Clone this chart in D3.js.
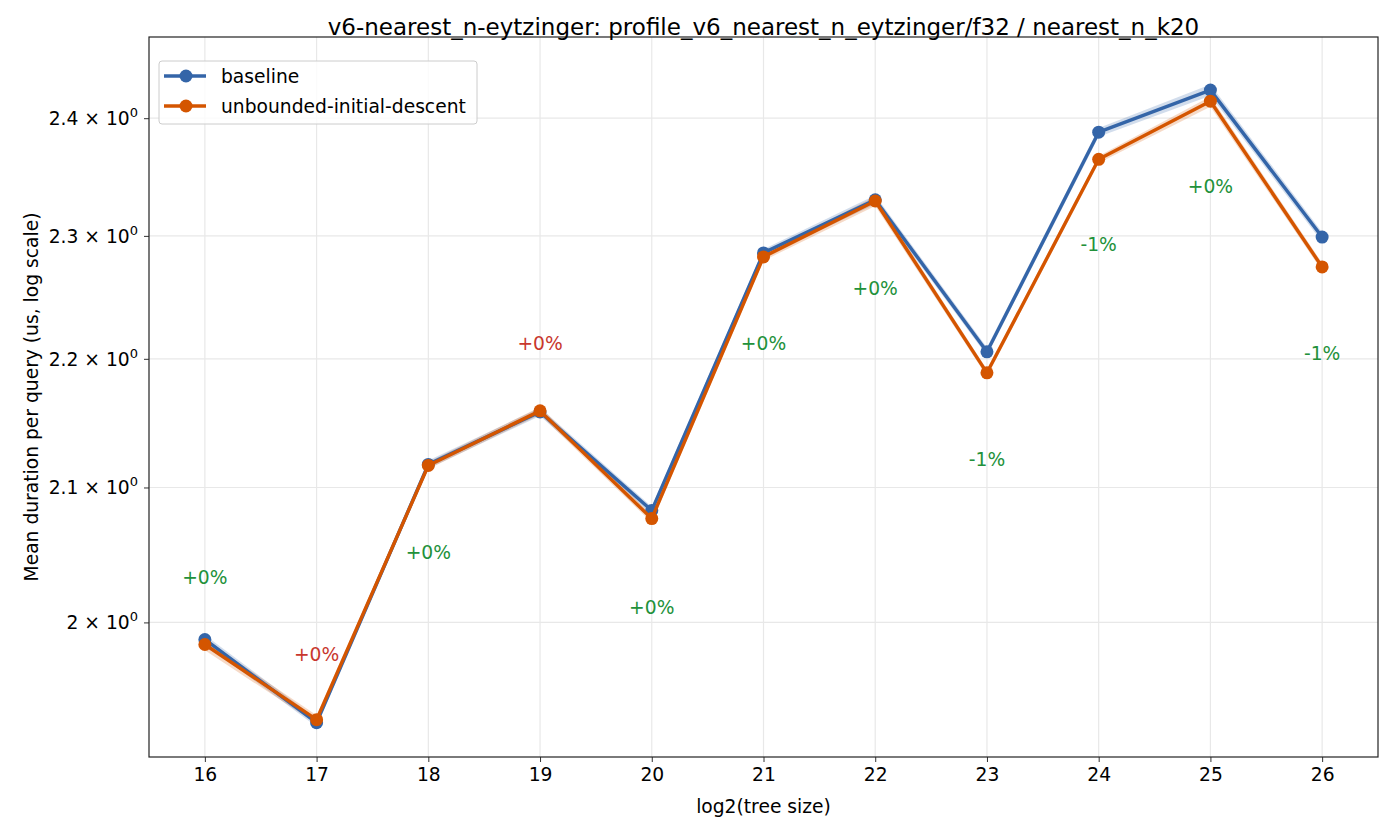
<!DOCTYPE html>
<html>
<head>
<meta charset="utf-8">
<script src="https://cdn.jsdelivr.net/npm/d3@7"></script>
<style>
  body { margin: 0; background: #fff; }
  text { font-family: "DejaVu Sans", sans-serif; }
</style>
</head>
<body>
<div id="chart"></div>
<script>
// data
const sizes = [16, 17, 18, 19, 20, 21, 22, 23, 24, 25, 26];
const baseline = [1.9877, 1.9288, 2.1176, 2.1582, 2.0826, 2.2859, 2.3302, 2.2056, 2.3879, 2.4245, 2.2990];
const baselineLo = [1.9845, 1.9260, 2.1145, 2.1550, 2.0795, 2.2825, 2.3265, 2.2025, 2.3840, 2.4195, 2.2950];
const baselineHi = [1.9910, 1.9315, 2.1205, 2.1615, 2.0855, 2.2890, 2.3340, 2.2090, 2.3915, 2.4295, 2.3030];
const unbounded = [1.9841, 1.9309, 2.1168, 2.1590, 2.0765, 2.2826, 2.3292, 2.1889, 2.3646, 2.4148, 2.2743];
const unboundedLo = [1.9800, 1.9280, 2.1140, 2.1560, 2.0735, 2.2795, 2.3250, 2.1860, 2.3615, 2.4100, 2.2710];
const unboundedHi = [1.9875, 1.9340, 2.1195, 2.1620, 2.0795, 2.2855, 2.3330, 2.1915, 2.3675, 2.4190, 2.2775];
const deltaText = ["+0%", "+0%", "+0%", "+0%", "+0%", "+0%", "+0%", "-1%", "-1%", "+0%", "-1%"];
const deltaWorse = [false, true, false, true, false, false, false, false, false, false, false];
const deltaY = [2.0329, 1.9769, 2.0511, 2.2120, 2.0109, 2.2120, 2.2571, 2.1214, 2.2925, 2.3412, 2.2040];
const yTicks = [2.0, 2.1, 2.2, 2.3, 2.4];
const yTickMant = ["2", "2.1", "2.2", "2.3", "2.4"];

const width = 1400, height = 840,
    margin = ({ top: 37, right: 22, bottom: 83, left: 149 });
const fs = 18.7;

const svg = d3.select("#chart")
    .append("svg")
    .attr("width", width)
    .attr("height", height);

let x = d3.scaleLinear()
    .domain([15.5, 26.5])
    .range([margin.left, width - margin.right]);

let y = d3.scaleLog()
    .domain([1.905, 2.4715])
    .range([height - margin.bottom, margin.top]);

// grid
svg.append("g")
    .selectAll("line")
    .data(sizes)
    .join("line")
    .attr("x1", d => x(d)).attr("x2", d => x(d))
    .attr("y1", margin.top).attr("y2", height - margin.bottom)
    .attr("stroke", "#e8e8e8").attr("stroke-width", 1.2);

svg.append("g")
    .selectAll("line")
    .data(yTicks)
    .join("line")
    .attr("x1", margin.left).attr("x2", width - margin.right)
    .attr("y1", d => y(d)).attr("y2", d => y(d))
    .attr("stroke", "#e8e8e8").attr("stroke-width", 1.2);

// x axis
let xAxis = svg.append("g")
    .attr("transform", `translate(0,${height - margin.bottom})`)
    .call(d3.axisBottom(x).tickValues(sizes).tickFormat(d3.format("d")).tickSize(5).tickPadding(6).tickSizeOuter(0));
xAxis.select(".domain").remove();
xAxis.selectAll("text").attr("font-size", fs).attr("fill", "#000");
xAxis.selectAll("line").attr("stroke", "#333");

// y axis
let yAxis = svg.append("g")
    .attr("transform", `translate(${margin.left},0)`)
    .call(d3.axisLeft(y).tickValues(yTicks).tickFormat("").tickSize(5).tickSizeOuter(0));
yAxis.select(".domain").remove();
yAxis.selectAll("line").attr("stroke", "#333");

let yLab = svg.append("g")
    .selectAll("text")
    .data(yTicks)
    .join("text")
    .attr("x", margin.left - 11)
    .attr("y", d => y(d) + 7)
    .attr("text-anchor", "end")
    .attr("font-size", fs);
yLab.append("tspan").text((d, i) => yTickMant[i] + " \u00d7 10");
yLab.append("tspan").attr("dy", -8).attr("font-size", 13).text("0");

// confidence bands
let area = (lo, hi) => d3.area()
    .x((d, i) => x(sizes[i]))
    .y0((d, i) => y(lo[i]))
    .y1((d, i) => y(hi[i]));

const series = [
    { name: "baseline", values: baseline, lo: baselineLo, hi: baselineHi, color: "#3465a8" },
    { name: "unbounded-initial-descent", values: unbounded, lo: unboundedLo, hi: unboundedHi, color: "#d45500" }
];

let line = d3.line()
    .x((d, i) => x(sizes[i]))
    .y(d => y(d));

for (let s of series) {
    svg.append("path")
        .datum(s.values)
        .attr("d", area(s.lo, s.hi))
        .attr("fill", s.color)
        .attr("opacity", 0.22);
}

for (let s of series) {
    let g = svg.append("g");
    g.append("path")
        .datum(s.values)
        .attr("fill", "none")
        .attr("stroke", s.color)
        .attr("stroke-width", 3.4)
        .attr("stroke-linejoin", "round")
        .attr("d", line);
    g.selectAll("circle")
        .data(s.values)
        .join("circle")
        .attr("cx", (d, i) => x(sizes[i]))
        .attr("cy", d => y(d))
        .attr("r", 6.5)
        .attr("fill", s.color);
}

// delta labels
svg.append("g")
    .selectAll("text")
    .data(deltaText)
    .join("text")
    .attr("x", (d, i) => x(sizes[i]))
    .attr("y", (d, i) => y(deltaY[i]))
    .attr("dy", "0.35em")
    .attr("text-anchor", "middle")
    .attr("font-size", fs)
    .attr("fill", (d, i) => deltaWorse[i] ? "#c8372d" : "#22913a")
    .text(d => d);

// frame
svg.append("rect")
    .attr("x", margin.left)
    .attr("y", margin.top)
    .attr("width", width - margin.left - margin.right)
    .attr("height", height - margin.top - margin.bottom)
    .attr("fill", "none")
    .attr("stroke", "#222")
    .attr("stroke-width", 1.2);

// title and labels
svg.append("text")
    .attr("x", (margin.left + width - margin.right) / 2)
    .attr("y", 35)
    .attr("text-anchor", "middle")
    .attr("font-size", 23)
    .text("v6-nearest_n-eytzinger: profile_v6_nearest_n_eytzinger/f32 / nearest_n_k20");

svg.append("text")
    .attr("x", (margin.left + width - margin.right) / 2)
    .attr("y", 813)
    .attr("text-anchor", "middle")
    .attr("font-size", fs)
    .text("log2(tree size)");

svg.append("text")
    .attr("transform", `translate(38,${(margin.top + height - margin.bottom) / 2}) rotate(-90)`)
    .attr("text-anchor", "middle")
    .attr("font-size", fs)
    .text("Mean duration per query (us, log scale)");

// legend
let legend = svg.append("g").attr("transform", "translate(159,61)");
legend.append("rect")
    .attr("width", 318).attr("height", 63).attr("rx", 3)
    .attr("fill", "#fff").attr("fill-opacity", 0.8)
    .attr("stroke", "#ccc");
series.forEach((s, i) => {
    let row = legend.append("g").attr("transform", `translate(0,${15 + i * 30})`);
    row.append("line").attr("x1", 5).attr("x2", 47).attr("stroke", s.color).attr("stroke-width", 3.4);
    row.append("circle").attr("cx", 27).attr("r", 6.5).attr("fill", s.color);
    row.append("text").attr("x", 62).attr("dy", "0.35em").attr("font-size", fs).text(s.name);
});
</script>
</body>
</html>
